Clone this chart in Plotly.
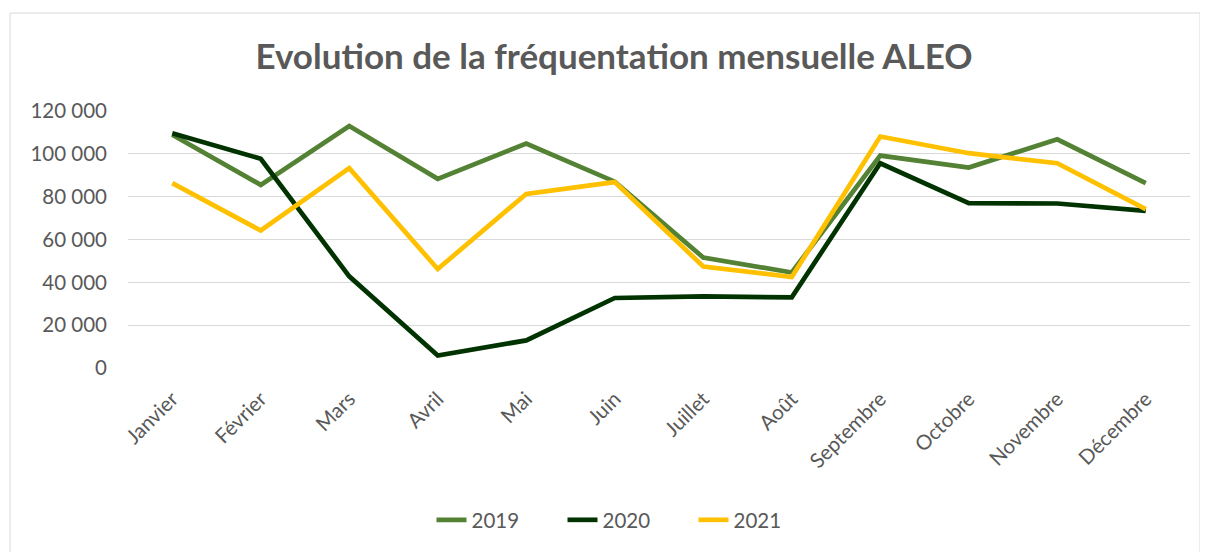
import plotly.graph_objects as go

months = ["Janvier", "Février", "Mars", "Avril", "Mai", "Juin", "Juillet",
          "Août", "Septembre", "Octobre", "Novembre", "Décembre"]
v2019 = [108900, 85500, 113000, 88300, 104800, 87000, 51600, 44600, 99200, 93600, 106800, 86300]
v2020 = [109600, 97700, 42800, 5800, 12900, 32700, 33400, 33000, 95600, 77000, 76800, 73400]
v2021 = [86300, 64200, 93300, 46200, 81300, 86800, 47400, 42500, 108100, 100300, 95600, 74200]
years = ["2019", "2020", "2021"]
colors = ["#548235", "#003300", "#FFC000"]
tick_vals = [0, 20000, 40000, 60000, 80000, 100000, 120000]

fig = go.Figure()
for name, vals, col in zip(years, [v2019, v2020, v2021], colors):
    fig.add_trace(go.Scatter(x=months, y=vals, name=name, mode="lines",
                             line=dict(color=col, width=4.7)))

# page body has an 8px margin: figure coordinates = reference - 8
OFF = 8
W, H = 1200, 544
L, R, T, B = 120, 18, 103, 184
pw, ph = W - L - R, H - T - B

def px_x(x):
    return (x - OFF - L) / pw

def px_y(y):
    return (H - B - (y - OFF)) / ph

tick_font = dict(family="Lato, 'Open Sans', sans-serif", size=20.5, color="#595959")

fig.update_layout(
    width=W, height=H,
    margin=dict(l=L, r=R, t=T, b=B, autoexpand=False),
    paper_bgcolor="white", plot_bgcolor="white",
    separators=", ",
    font=dict(family="Lato, 'Open Sans', sans-serif", color="#595959", size=20),
    title=dict(text="<b>Evolution de la fréquentation mensuelle ALEO</b>",
               x=(614 - OFF) / W, xanchor="center", xref="container",
               y=1 - (57 - OFF) / H, yanchor="middle",
               font=dict(family="Lato, sans-serif", size=35, color="#595959")),
    showlegend=True,
    legend=dict(orientation="h", x=px_x(628), xanchor="center",
                y=px_y(520), yanchor="middle",
                entrywidth=86, entrywidthmode="pixels",
                font=tick_font),
    xaxis=dict(showgrid=False, showline=False, zeroline=False,
               range=[-0.5, 11.5],
               tickangle=-45, tickfont=tick_font,
               ticks="", ticklabelstandoff=14),
    yaxis=dict(range=[0, 120000], tickvals=tick_vals, tickformat=",d",
               showgrid=True, gridcolor="#d9d9d9", gridwidth=1.3,
               zeroline=False, showline=False, ticks="",
               tickfont=tick_font, ticklabelstandoff=20),
    shapes=[dict(type="rect", xref="paper", yref="paper",
                 x0=px_x(10), x1=px_x(1200), y0=px_y(600), y1=px_y(13),
                 line=dict(color="#d9d9d9", width=1), layer="below")],
)

fig.write_html("out.html")
